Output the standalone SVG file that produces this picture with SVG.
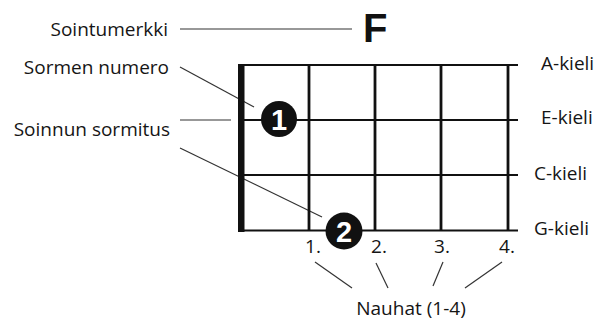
<svg xmlns="http://www.w3.org/2000/svg" width="598" height="320" viewBox="0 0 598 320">
<style>
.lbl{font-family:"Open Sans","Noto Sans","Liberation Sans",sans-serif;font-size:19px;fill:#151515}
.ptr{stroke:#333;stroke-width:1.2;fill:none}
.str{stroke:#111;stroke-width:2.2}
.fret{stroke:#111;stroke-width:2.8}
.dot{fill:#111}
.dnum{font-family:"Liberation Sans",Arial,sans-serif;font-weight:bold;font-size:29px;fill:#fff;text-anchor:middle}
</style>
<rect width="598" height="320" fill="#fff"/>
<g id="connectors">
<line class="ptr" x1="180" y1="29" x2="352" y2="29"/>
<line class="ptr" x1="180" y1="67" x2="254" y2="107"/>
<line class="ptr" x1="180" y1="120" x2="231" y2="120"/>
<line class="ptr" x1="180" y1="148" x2="322" y2="217"/>
<line class="ptr" x1="315" y1="262" x2="352" y2="288"/>
<line class="ptr" x1="376" y1="263" x2="388" y2="288"/>
<line class="ptr" x1="443" y1="262" x2="433" y2="286"/>
<line class="ptr" x1="502" y1="262" x2="465" y2="288"/>
</g>
<g id="fretboard">
<line class="str" x1="240" y1="65" x2="518" y2="65"/>
<line class="str" x1="240" y1="120" x2="518" y2="120"/>
<line class="str" x1="240" y1="175" x2="518" y2="175"/>
<line class="str" x1="240" y1="230.5" x2="518" y2="230.5"/>
<line class="fret" x1="309" y1="65" x2="309" y2="231"/>
<line class="fret" x1="375" y1="65" x2="375" y2="231"/>
<line class="fret" x1="441" y1="65" x2="441" y2="231"/>
<line class="fret" x1="508" y1="65" x2="508" y2="231"/>
<rect x="238" y="64" width="6.5" height="168" fill="#111"/>
</g>
<g id="chord-name"><text x="363" y="42" font-family="Liberation Sans,Arial,sans-serif" font-weight="bold" font-size="40" fill="#111">F</text></g>
<g id="label-sointumerkki"><text class="lbl" x="168" y="36" text-anchor="end">Sointumerkki</text></g>
<g id="label-sormen-numero"><text class="lbl" x="169" y="74" text-anchor="end">Sormen numero</text></g>
<g id="label-soinnun-sormitus"><text class="lbl" x="170" y="136" text-anchor="end">Soinnun sormitus</text></g>
<g id="finger-1"><circle class="dot" cx="279" cy="119" r="18"/><text class="dnum" x="279" y="129.5">1</text></g>
<g id="finger-2"><circle class="dot" cx="344" cy="231" r="18.5"/><text class="dnum" x="344" y="241.5">2</text></g>
<g id="string-labels">
<text class="lbl" x="541" y="70">A-kieli</text>
<text class="lbl" x="541" y="124">E-kieli</text>
<text class="lbl" x="534" y="180">C-kieli</text>
<text class="lbl" x="534" y="235">G-kieli</text>
</g>
<g id="fret-numbers">
<text class="lbl" x="313" y="253" text-anchor="middle">1.</text>
<text class="lbl" x="379" y="253" text-anchor="middle">2.</text>
<text class="lbl" x="442" y="253" text-anchor="middle">3.</text>
<text class="lbl" x="507" y="253" text-anchor="middle">4.</text>
</g>
<g id="label-nauhat"><text class="lbl" x="411" y="315" text-anchor="middle">Nauhat (1-4)</text></g>
</svg>
